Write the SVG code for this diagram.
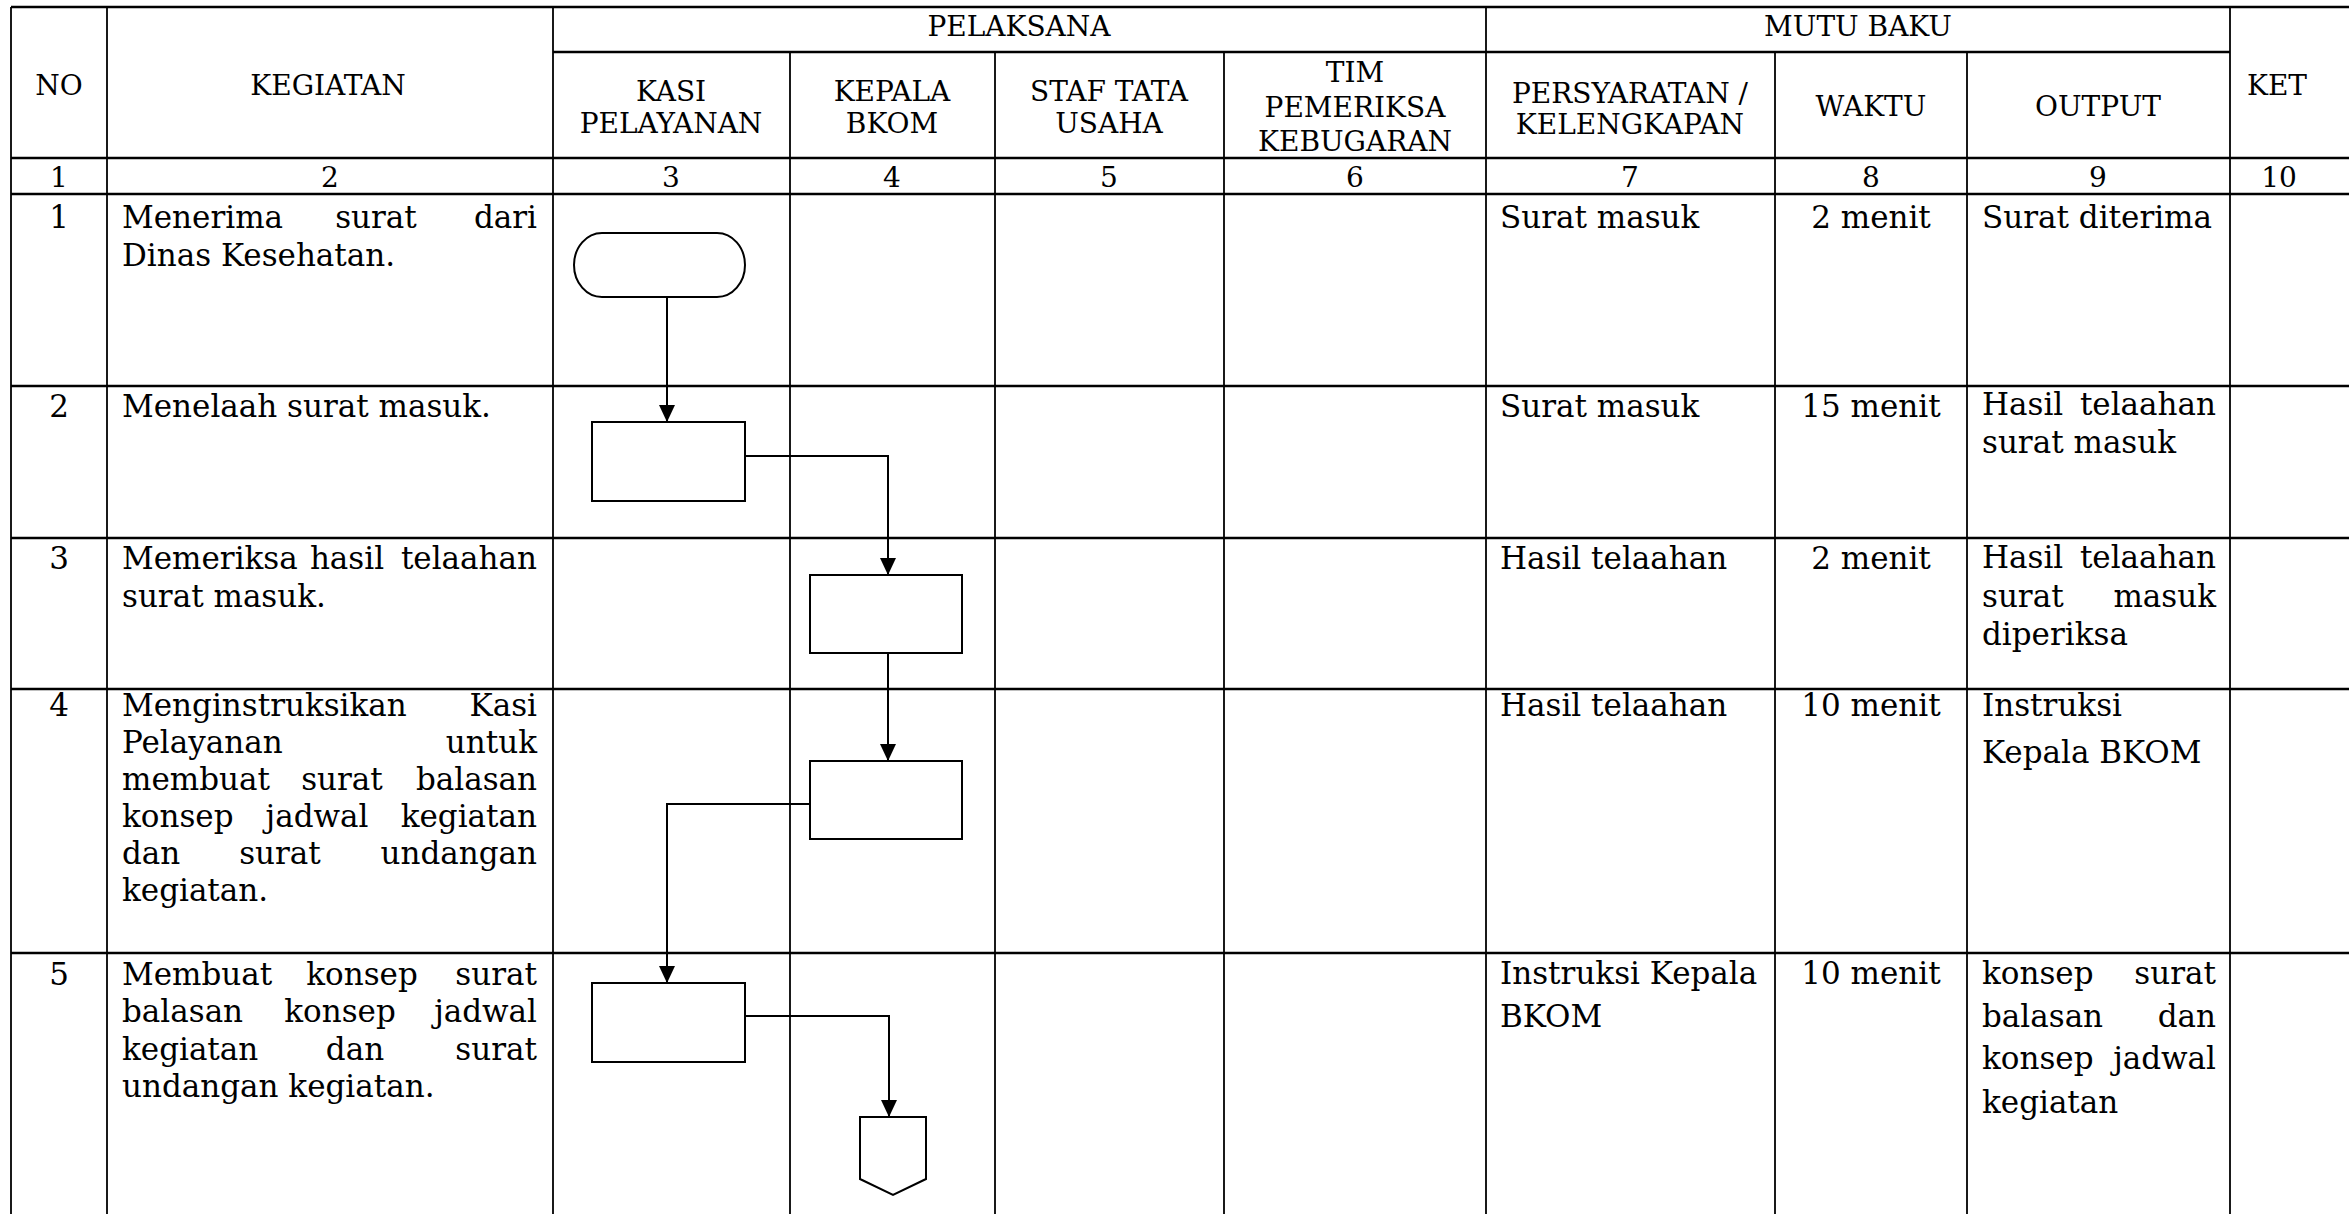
<svg xmlns="http://www.w3.org/2000/svg" width="2349" height="1214" viewBox="0 0 2349 1214">
<style>
text{font-family:"DejaVu Serif","Liberation Serif",serif;fill:#000}
.h{font-size:28px;text-anchor:middle}
.b{font-size:31px}
.c{text-anchor:middle}
.e{text-anchor:end}
.gh{stroke:#000;stroke-width:2.5}
.gv{stroke:#000;stroke-width:1.8}
.shape{fill:#fff;stroke:#000;stroke-width:2}
.conn{fill:none;stroke:#000;stroke-width:2}
</style>
<defs>
<marker id="arr" markerUnits="userSpaceOnUse" markerWidth="17" markerHeight="16" refX="17" refY="8" orient="auto">
<path d="M0,0 L17,8 L0,16 z" fill="#000"/>
</marker>
</defs>
<rect width="2349" height="1214" fill="#fff"/>
<g id="grid">
<line class="gh" x1="11" y1="7" x2="2349" y2="7"/>
<line class="gh" x1="553" y1="52" x2="2230" y2="52"/>
<line class="gh" x1="11" y1="158" x2="2349" y2="158"/>
<line class="gh" x1="11" y1="194" x2="2349" y2="194"/>
<line class="gh" x1="11" y1="386" x2="2349" y2="386"/>
<line class="gh" x1="11" y1="538" x2="2349" y2="538"/>
<line class="gh" x1="11" y1="689" x2="2349" y2="689"/>
<line class="gh" x1="11" y1="953" x2="2349" y2="953"/>
<line class="gv" x1="11" y1="7" x2="11" y2="1214"/>
<line class="gv" x1="107" y1="7" x2="107" y2="1214"/>
<line class="gv" x1="553" y1="7" x2="553" y2="1214"/>
<line class="gv" x1="1486" y1="7" x2="1486" y2="1214"/>
<line class="gv" x1="2230" y1="7" x2="2230" y2="1214"/>
<line class="gv" x1="790" y1="52" x2="790" y2="1214"/>
<line class="gv" x1="995" y1="52" x2="995" y2="1214"/>
<line class="gv" x1="1224" y1="52" x2="1224" y2="1214"/>
<line class="gv" x1="1775" y1="52" x2="1775" y2="1214"/>
<line class="gv" x1="1967" y1="52" x2="1967" y2="1214"/>
</g>
<g id="header">
<text class="h" x="1019" y="36">PELAKSANA</text>
<text class="h" x="1858" y="36">MUTU BAKU</text>
<text class="h" x="59" y="95">NO</text>
<text class="h" x="328" y="95">KEGIATAN</text>
<text class="h" x="2277" y="95">KET</text>
<text class="h" x="671" y="101">KASI</text>
<text class="h" x="671" y="133">PELAYANAN</text>
<text class="h" x="892" y="101">KEPALA</text>
<text class="h" x="892" y="133">BKOM</text>
<text class="h" x="1109" y="101">STAF TATA</text>
<text class="h" x="1109" y="133">USAHA</text>
<text class="h" x="1355" y="82">TIM</text>
<text class="h" x="1355" y="117">PEMERIKSA</text>
<text class="h" x="1355" y="151">KEBUGARAN</text>
<text class="h" x="1630" y="103">PERSYARATAN /</text>
<text class="h" x="1630" y="134">KELENGKAPAN</text>
<text class="h" x="1871" y="116">WAKTU</text>
<text class="h" x="2098" y="116">OUTPUT</text>
<text class="h" x="59" y="187">1</text>
<text class="h" x="330" y="187">2</text>
<text class="h" x="671" y="187">3</text>
<text class="h" x="892" y="187">4</text>
<text class="h" x="1109" y="187">5</text>
<text class="h" x="1355" y="187">6</text>
<text class="h" x="1630" y="187">7</text>
<text class="h" x="1871" y="187">8</text>
<text class="h" x="2098" y="187">9</text>
<text class="h" x="2279" y="187">10</text>
</g>
<g id="col-no">
<text class="b c" x="59" y="228">1</text>
<text class="b c" x="59" y="417">2</text>
<text class="b c" x="59" y="569">3</text>
<text class="b c" x="59" y="716">4</text>
<text class="b c" x="59" y="985">5</text>
</g>
<g id="col-kegiatan">
<text class="b" x="122" y="228">Menerima</text>
<text class="b c" x="376" y="228">surat</text>
<text class="b e" x="537" y="228">dari</text>
<text class="b" x="122" y="266">Dinas Kesehatan.</text>
<text class="b" x="122" y="417">Menelaah surat masuk.</text>
<text class="b" x="122" y="569">Memeriksa</text>
<text class="b c" x="347" y="569">hasil</text>
<text class="b e" x="537" y="569">telaahan</text>
<text class="b" x="122" y="607">surat masuk.</text>
<text class="b" x="122" y="716">Menginstruksikan</text>
<text class="b e" x="537" y="716">Kasi</text>
<text class="b" x="122" y="753">Pelayanan</text>
<text class="b e" x="537" y="753">untuk</text>
<text class="b" x="122" y="790">membuat</text>
<text class="b c" x="342" y="790">surat</text>
<text class="b e" x="537" y="790">balasan</text>
<text class="b" x="122" y="827">konsep</text>
<text class="b c" x="317" y="827">jadwal</text>
<text class="b e" x="537" y="827">kegiatan</text>
<text class="b" x="122" y="864">dan</text>
<text class="b c" x="280" y="864">surat</text>
<text class="b e" x="537" y="864">undangan</text>
<text class="b" x="122" y="901">kegiatan.</text>
<text class="b" x="122" y="985">Membuat</text>
<text class="b c" x="362" y="985">konsep</text>
<text class="b e" x="537" y="985">surat</text>
<text class="b" x="122" y="1022">balasan</text>
<text class="b c" x="340" y="1022">konsep</text>
<text class="b e" x="537" y="1022">jadwal</text>
<text class="b" x="122" y="1060">kegiatan</text>
<text class="b c" x="355" y="1060">dan</text>
<text class="b e" x="537" y="1060">surat</text>
<text class="b" x="122" y="1097">undangan kegiatan.</text>
</g>
<g id="col-persyaratan">
<text class="b" x="1500" y="228">Surat masuk</text>
<text class="b" x="1500" y="417">Surat masuk</text>
<text class="b" x="1500" y="569">Hasil telaahan</text>
<text class="b" x="1500" y="716">Hasil telaahan</text>
<text class="b" x="1500" y="984">Instruksi Kepala</text>
<text class="b" x="1500" y="1027">BKOM</text>
</g>
<g id="col-waktu">
<text class="b c" x="1871" y="228">2 menit</text>
<text class="b c" x="1871" y="417">15 menit</text>
<text class="b c" x="1871" y="569">2 menit</text>
<text class="b c" x="1871" y="716">10 menit</text>
<text class="b c" x="1871" y="984">10 menit</text>
</g>
<g id="col-output">
<text class="b" x="1982" y="228">Surat diterima</text>
<text class="b" x="1982" y="415">Hasil</text>
<text class="b e" x="2216" y="415">telaahan</text>
<text class="b" x="1982" y="453">surat masuk</text>
<text class="b" x="1982" y="568">Hasil</text>
<text class="b e" x="2216" y="568">telaahan</text>
<text class="b" x="1982" y="607">surat</text>
<text class="b e" x="2216" y="607">masuk</text>
<text class="b" x="1982" y="645">diperiksa</text>
<text class="b" x="1982" y="716">Instruksi</text>
<text class="b" x="1982" y="763">Kepala BKOM</text>
<text class="b" x="1982" y="984">konsep</text>
<text class="b e" x="2216" y="984">surat</text>
<text class="b" x="1982" y="1027">balasan</text>
<text class="b e" x="2216" y="1027">dan</text>
<text class="b" x="1982" y="1069">konsep</text>
<text class="b e" x="2216" y="1069">jadwal</text>
<text class="b" x="1982" y="1113">kegiatan</text>
</g>
<g id="connectors">
<path class="conn" d="M667,297 L667,422" marker-end="url(#arr)"/>
<path class="conn" d="M745,456 L888,456 L888,575" marker-end="url(#arr)"/>
<path class="conn" d="M888,653 L888,761" marker-end="url(#arr)"/>
<path class="conn" d="M810,804 L667,804 L667,983" marker-end="url(#arr)"/>
<path class="conn" d="M745,1016 L889,1016 L889,1117" marker-end="url(#arr)"/>
</g>
<g id="node-start"><rect class="shape" x="574" y="233" width="171" height="64" rx="28" ry="32"/></g>
<g id="node-telaah"><rect class="shape" x="592" y="422" width="153" height="79"/></g>
<g id="node-periksa"><rect class="shape" x="810" y="575" width="152" height="78"/></g>
<g id="node-instruksi"><rect class="shape" x="810" y="761" width="152" height="78"/></g>
<g id="node-konsep"><rect class="shape" x="592" y="983" width="153" height="79"/></g>
<g id="node-offpage"><path class="shape" d="M860,1117 L926,1117 L926,1179 L893,1195 L860,1179 Z"/></g>
</svg>
